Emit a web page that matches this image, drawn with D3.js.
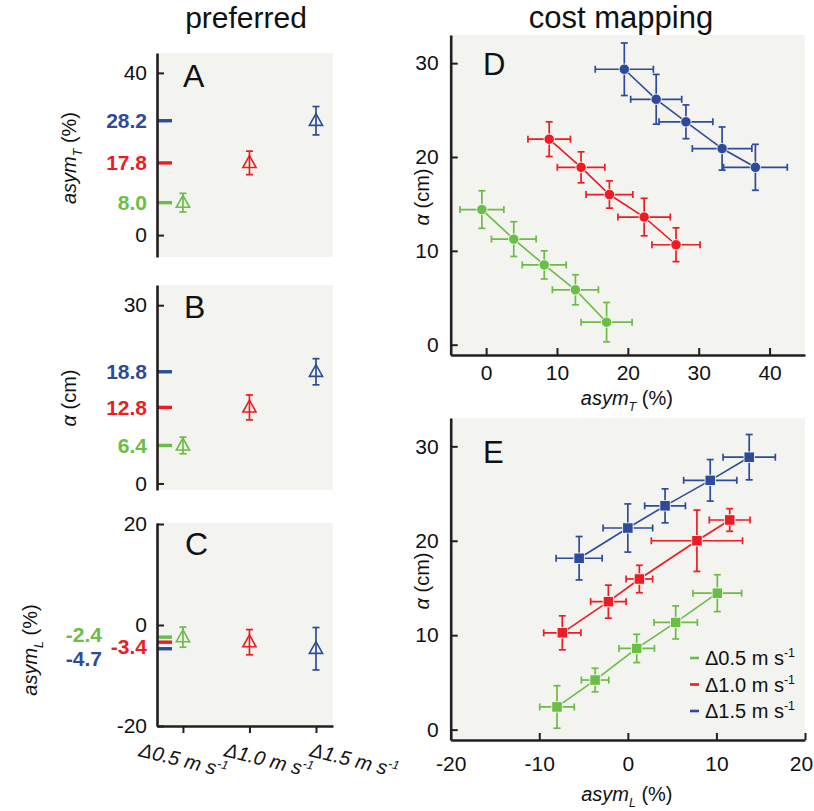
<!DOCTYPE html>
<html><head><meta charset="utf-8">
<script src="https://cdn.jsdelivr.net/npm/d3@7"></script>
<style>body{margin:0;background:#fff} svg{display:block} text{font-family:"Liberation Sans",Arial,Helvetica,sans-serif}</style>
</head><body><svg id="c" width="814" height="811"></svg>
<script>
// ---------------- data ----------------
const speeds = [0.5, 1.0, 1.5];
const speedNames = ["Δ0.5", "Δ1.0", "Δ1.5"];
const seriesColors = ["#6abd45", "#ed1c24", "#2e4b9b"];

const prefAsymT = [8.0, 17.8, 28.2];
const prefAsymTErr = [2.3, 2.9, 3.5];
const prefAlpha = [6.4, 12.8, 18.8];
const prefAlphaErr = [1.4, 2.1, 2.2];
const prefAsymL = [-2.4, -3.4, -4.7];
const prefAsymLErr = [2.0, 2.5, 4.2];
const ticksA = [0, 40], ticksB = [0, 30], ticksC = [-20, 0, 20];

const dAsymT    = [[-0.6, 3.9, 8.2, 12.6, 17.0], [8.9, 13.4, 17.4, 22.3, 26.8], [19.5, 24.0, 28.2, 33.3, 38.0]];
const dAsymTErr = [[3.1, 3.15, 3.1, 3.25, 3.6], [3.0, 3.35, 3.3, 3.7, 3.4], [4.1, 3.6, 3.8, 4.2, 4.5]];
const dAlpha    = [[14.4, 11.25, 8.5, 5.85, 2.4], [21.9, 18.9, 16.0, 13.6, 10.65], [29.35, 26.15, 23.75, 20.9, 18.9]];
const dAlphaErr = [[2.0, 1.85, 1.5, 1.6, 2.1], [1.85, 1.65, 1.45, 2.0, 1.8], [2.8, 2.65, 1.8, 2.3, 2.45]];

const eAsymL    = [[-8.0, -3.7, 1.0, 5.4, 10.1], [-7.4, -2.2, 1.3, 7.8, 11.5], [-5.5, 0.0, 4.2, 9.3, 13.7]];
const eAsymLErr = [[1.95, 1.55, 2.0, 2.45, 2.75], [2.1, 2.0, 1.5, 5.15, 2.3], [2.6, 2.8, 2.3, 3.0, 2.95]];
const eAlpha    = [[2.4, 5.25, 8.6, 11.35, 14.45], [10.25, 13.55, 15.95, 20.0, 22.2], [18.15, 21.35, 23.7, 26.4, 28.85]];
const eAlphaErr = [[2.25, 1.25, 1.5, 1.75, 1.95], [1.8, 1.75, 1.45, 3.25, 1.2], [2.3, 2.55, 1.8, 2.2, 2.4]];

const ticksDX = [0, 10, 20, 30, 40], ticksDY = [0, 10, 20, 30];
const ticksEX = [-20, -10, 0, 10, 20], ticksEY = [0, 10, 20, 30];

// ---------------- drawing ----------------
const svg = d3.select("#c");
const BG = "#f3f3ef", AX = "#231f20";
const FS = 20, TFS = 21;
const fmtInt = d => String(d);
const fmt1 = v => v.toFixed(1);

function rich(sel, parts, size) {
  let cur = 0;
  parts.forEach(p => {
    const off = p.sub ? size * 0.32 : p.sup ? -size * 0.4 : 0;
    const ts = sel.append("tspan").text(p.t).attr("dy", off - cur);
    cur = off;
    if (p.italic) ts.attr("font-style", "italic");
    if (p.sub || p.sup) ts.attr("font-size", size * 0.62);
  });
  return sel;
}
function styleAxis(g) {
  g.select(".domain").attr("stroke", AX).attr("stroke-width", 2.6);
  g.selectAll(".tick line").attr("stroke", AX).attr("stroke-width", 2);
  g.selectAll(".tick text").attr("font-size", TFS).attr("fill", "#111")
    .attr("font-family", '"Liberation Sans",Arial,sans-serif');
  g.attr("font-family", null).attr("font-size", null);
}
function errV(g, x, y1, y2, c) {
  g.append("line").attr("x1", x).attr("x2", x).attr("y1", y1).attr("y2", y2).attr("stroke", c).attr("stroke-width", 1.7);
  [y1, y2].forEach(y => g.append("line").attr("x1", x - 3.5).attr("x2", x + 3.5).attr("y1", y).attr("y2", y).attr("stroke", c).attr("stroke-width", 1.7));
}
function errH(g, y, x1, x2, c) {
  g.append("line").attr("x1", x1).attr("x2", x2).attr("y1", y).attr("y2", y).attr("stroke", c).attr("stroke-width", 1.7);
  [x1, x2].forEach(x => g.append("line").attr("x1", x).attr("x2", x).attr("y1", y - 3.5).attr("y2", y + 3.5).attr("stroke", c).attr("stroke-width", 1.7));
}

// titles
svg.append("text").attr("x", 246).attr("y", 28).attr("text-anchor", "middle").attr("font-size", 30).attr("fill", "#111").text("preferred");
svg.append("text").attr("x", 621).attr("y", 28).attr("text-anchor", "middle").attr("font-size", 31).attr("fill", "#111").text("cost mapping");

// left panels
const xCat = d3.scaleLinear().domain([0.305, 1.628]).range([157, 333]);
const xLab = d3.scaleLinear().domain([0.5, 1.5]).range([183, 354]);

const leftPanels = [
  { y: d3.scaleLinear().domain([-5.4, 44.9]).range([257, 53]), ticks: ticksA, vals: prefAsymT, errs: prefAsymTErr,
    letter: "A", lx: 183, ly: 87,
    title: [{ t: "asym", italic: true }, { t: "T", italic: true, sub: true }, { t: " (%)" }], tx: 69, ty: 158 },
  { y: d3.scaleLinear().domain([-1.1, 33.4]).range([490, 285]), ticks: ticksB, vals: prefAlpha, errs: prefAlphaErr,
    letter: "B", lx: 184, ly: 318,
    title: [{ t: "α", italic: true }, { t: " (cm)" }], tx: 69, ty: 398 },
  { y: d3.scaleLinear().domain([-20, 20.2]).range([726, 523]), ticks: ticksC, vals: prefAsymL, errs: prefAsymLErr,
    letter: "C", lx: 185, ly: 555, xaxis: true,
    labOff: [[-45, -3], [0, 4.5], [-45, 9.5]],
    title: [{ t: "asym", italic: true }, { t: "L", italic: true, sub: true }, { t: " (%)" }], tx: 30, ty: 650 }
];

const tri = "M0,-7.2L6.6,4.6L-6.6,4.6Z";
leftPanels.forEach(p => {
  const g = svg.append("g");
  const [yb, yt] = p.y.range();
  g.append("rect").attr("x", 157).attr("y", yt).attr("width", 333 - 157).attr("height", yb - yt).attr("fill", BG);
  g.append("text").attr("x", p.lx).attr("y", p.ly).attr("font-size", 32).attr("fill", "#111").text(p.letter);
  p.vals.forEach((v, i) => {
    g.append("line").attr("x1", 157).attr("x2", 172).attr("y1", p.y(v)).attr("y2", p.y(v))
      .attr("stroke", seriesColors[i]).attr("stroke-width", 3.4);
    const off = p.labOff ? p.labOff[i] : [0, 0];
    g.append("text").attr("x", 147 + off[0]).attr("y", p.y(v) + off[1] + 7.5).attr("text-anchor", "end")
      .attr("font-size", TFS).attr("font-weight", "bold").attr("fill", seriesColors[i]).text(fmt1(v));
  });
  if (p.xaxis) {
    const gx = g.append("g").attr("transform", `translate(0,${yb})`)
      .call(d3.axisBottom(xCat).tickValues(speeds).tickSize(7).tickSizeOuter(0).tickFormat(""));
    styleAxis(gx);
    speeds.forEach((s, i) => {
      const t = g.append("text").attr("transform", `translate(${xLab(s)},761) rotate(14)`).attr("y", 6)
        .attr("text-anchor", "middle").attr("font-size", FS).attr("fill", "#111").attr("font-style", "italic");
      rich(t, [{ t: speedNames[i] + " m s", italic: true }, { t: "-1", italic: true, sup: true }], FS);
    });
  }
  const gy = g.append("g").attr("transform", "translate(157,0)")
    .call(d3.axisLeft(p.y).tickValues(p.ticks).tickSize(-7).tickSizeOuter(0).tickPadding(10).tickFormat(fmtInt));
  styleAxis(gy);
  p.vals.forEach((v, i) => {
    const x = xCat(speeds[i]);
    errV(g, x, p.y(v - p.errs[i]), p.y(v + p.errs[i]), seriesColors[i]);
    g.append("path").attr("d", tri).attr("transform", `translate(${x},${p.y(v)})`)
      .attr("fill", "none").attr("stroke", seriesColors[i]).attr("stroke-width", 1.6);
  });
  const tt = g.append("text").attr("transform", `translate(${p.tx},${p.ty}) rotate(-90)`).attr("y", 7)
    .attr("text-anchor", "middle").attr("font-size", FS).attr("fill", "#111");
  rich(tt, p.title, FS);
});

// right panels
const rightPanels = [
  { x: d3.scaleLinear().domain([-5, 45]).range([450.7, 805]), y: d3.scaleLinear().domain([-1.1, 33]).range([355, 35]),
    tx: ticksDX, ty: ticksDY, xs: dAsymT, xe: dAsymTErr, ys: dAlpha, ye: dAlphaErr, mark: "circle", letter: "D", ly: 75,
    padX: 10.5, xtitle: [{ t: "asym", italic: true }, { t: "T", italic: true, sub: true }, { t: " (%)" }], xty: 405 },
  { x: d3.scaleLinear().domain([-20, 20]).range([450.7, 805]), y: d3.scaleLinear().domain([-1.1, 33]).range([740, 418]),
    tx: ticksEX, ty: ticksEY, xs: eAsymL, xe: eAsymLErr, ys: eAlpha, ye: eAlphaErr, mark: "square", letter: "E", ly: 463,
    padX: 16, xtitle: [{ t: "asym", italic: true }, { t: "L", italic: true, sub: true }, { t: " (%)" }], xty: 801, legend: true }
];

rightPanels.forEach(p => {
  const g = svg.append("g");
  const [x0, x1] = p.x.range(), [yb, yt] = p.y.range();
  g.append("rect").attr("x", x0).attr("y", yt).attr("width", x1 - x0).attr("height", yb - yt).attr("fill", BG);
  g.append("text").attr("x", 483).attr("y", p.ly).attr("font-size", 31).attr("fill", "#111").text(p.letter);
  const gx = g.append("g").attr("transform", `translate(0,${yb})`)
    .call(d3.axisBottom(p.x).tickValues(p.tx).tickSize(-7).tickSizeOuter(0).tickPadding(p.padX).tickFormat(fmtInt));
  styleAxis(gx);
  // keep the last label inside the page
  gx.selectAll(".tick text").filter(d => p.x(d) > 795).attr("dx", -4);
  const gy = g.append("g").attr("transform", `translate(${x0},0)`)
    .call(d3.axisLeft(p.y).tickValues(p.ty).tickSize(-7).tickSizeOuter(0).tickPadding(12).tickFormat(fmtInt));
  styleAxis(gy);
  const line = d3.line().x(d => p.x(d[0])).y(d => p.y(d[1]));
  p.xs.forEach((xsr, s) => {
    const c = seriesColors[s];
    const pts = xsr.map((xv, j) => [xv, p.ys[s][j]]);
    g.append("path").attr("d", line(pts)).attr("fill", "none").attr("stroke", c).attr("stroke-width", 1.6);
    pts.forEach((pt, j) => {
      const cx = p.x(pt[0]), cy = p.y(pt[1]);
      errH(g, cy, p.x(pt[0] - p.xe[s][j]), p.x(pt[0] + p.xe[s][j]), c);
      errV(g, cx, p.y(pt[1] - p.ye[s][j]), p.y(pt[1] + p.ye[s][j]), c);
    });
    pts.forEach(pt => {
      const cx = p.x(pt[0]), cy = p.y(pt[1]);
      if (p.mark === "circle") g.append("circle").attr("cx", cx).attr("cy", cy).attr("r", 5.2).attr("fill", c).attr("stroke", "#fff").attr("stroke-width", 0.8);
      else g.append("rect").attr("x", cx - 5.2).attr("y", cy - 5.2).attr("width", 10.4).attr("height", 10.4).attr("fill", c).attr("stroke", "#fff").attr("stroke-width", 0.8);
    });
  });
  const xt = g.append("text").attr("x", (x0 + x1) / 2 - 1).attr("y", p.xty).attr("text-anchor", "middle").attr("font-size", FS).attr("fill", "#111");
  rich(xt, p.xtitle, FS);
  const yt2 = g.append("text").attr("transform", `translate(422,${(yb + yt) / 2 + 2}) rotate(-90)`).attr("y", 7)
    .attr("text-anchor", "middle").attr("font-size", FS).attr("fill", "#111");
  rich(yt2, [{ t: "α", italic: true }, { t: " (cm)" }], FS);
  if (p.legend) {
    speedNames.forEach((nm, i) => {
      const ly = 658 + i * 26.5;
      g.append("line").attr("x1", 690).attr("x2", 699).attr("y1", ly).attr("y2", ly).attr("stroke", seriesColors[i]).attr("stroke-width", 2.6);
      const t = g.append("text").attr("x", 705).attr("y", ly + 7).attr("font-size", FS).attr("fill", "#111");
      rich(t, [{ t: nm + " m s" }, { t: "-1", sup: true }], FS);
    });
  }
});
</script></body></html>
